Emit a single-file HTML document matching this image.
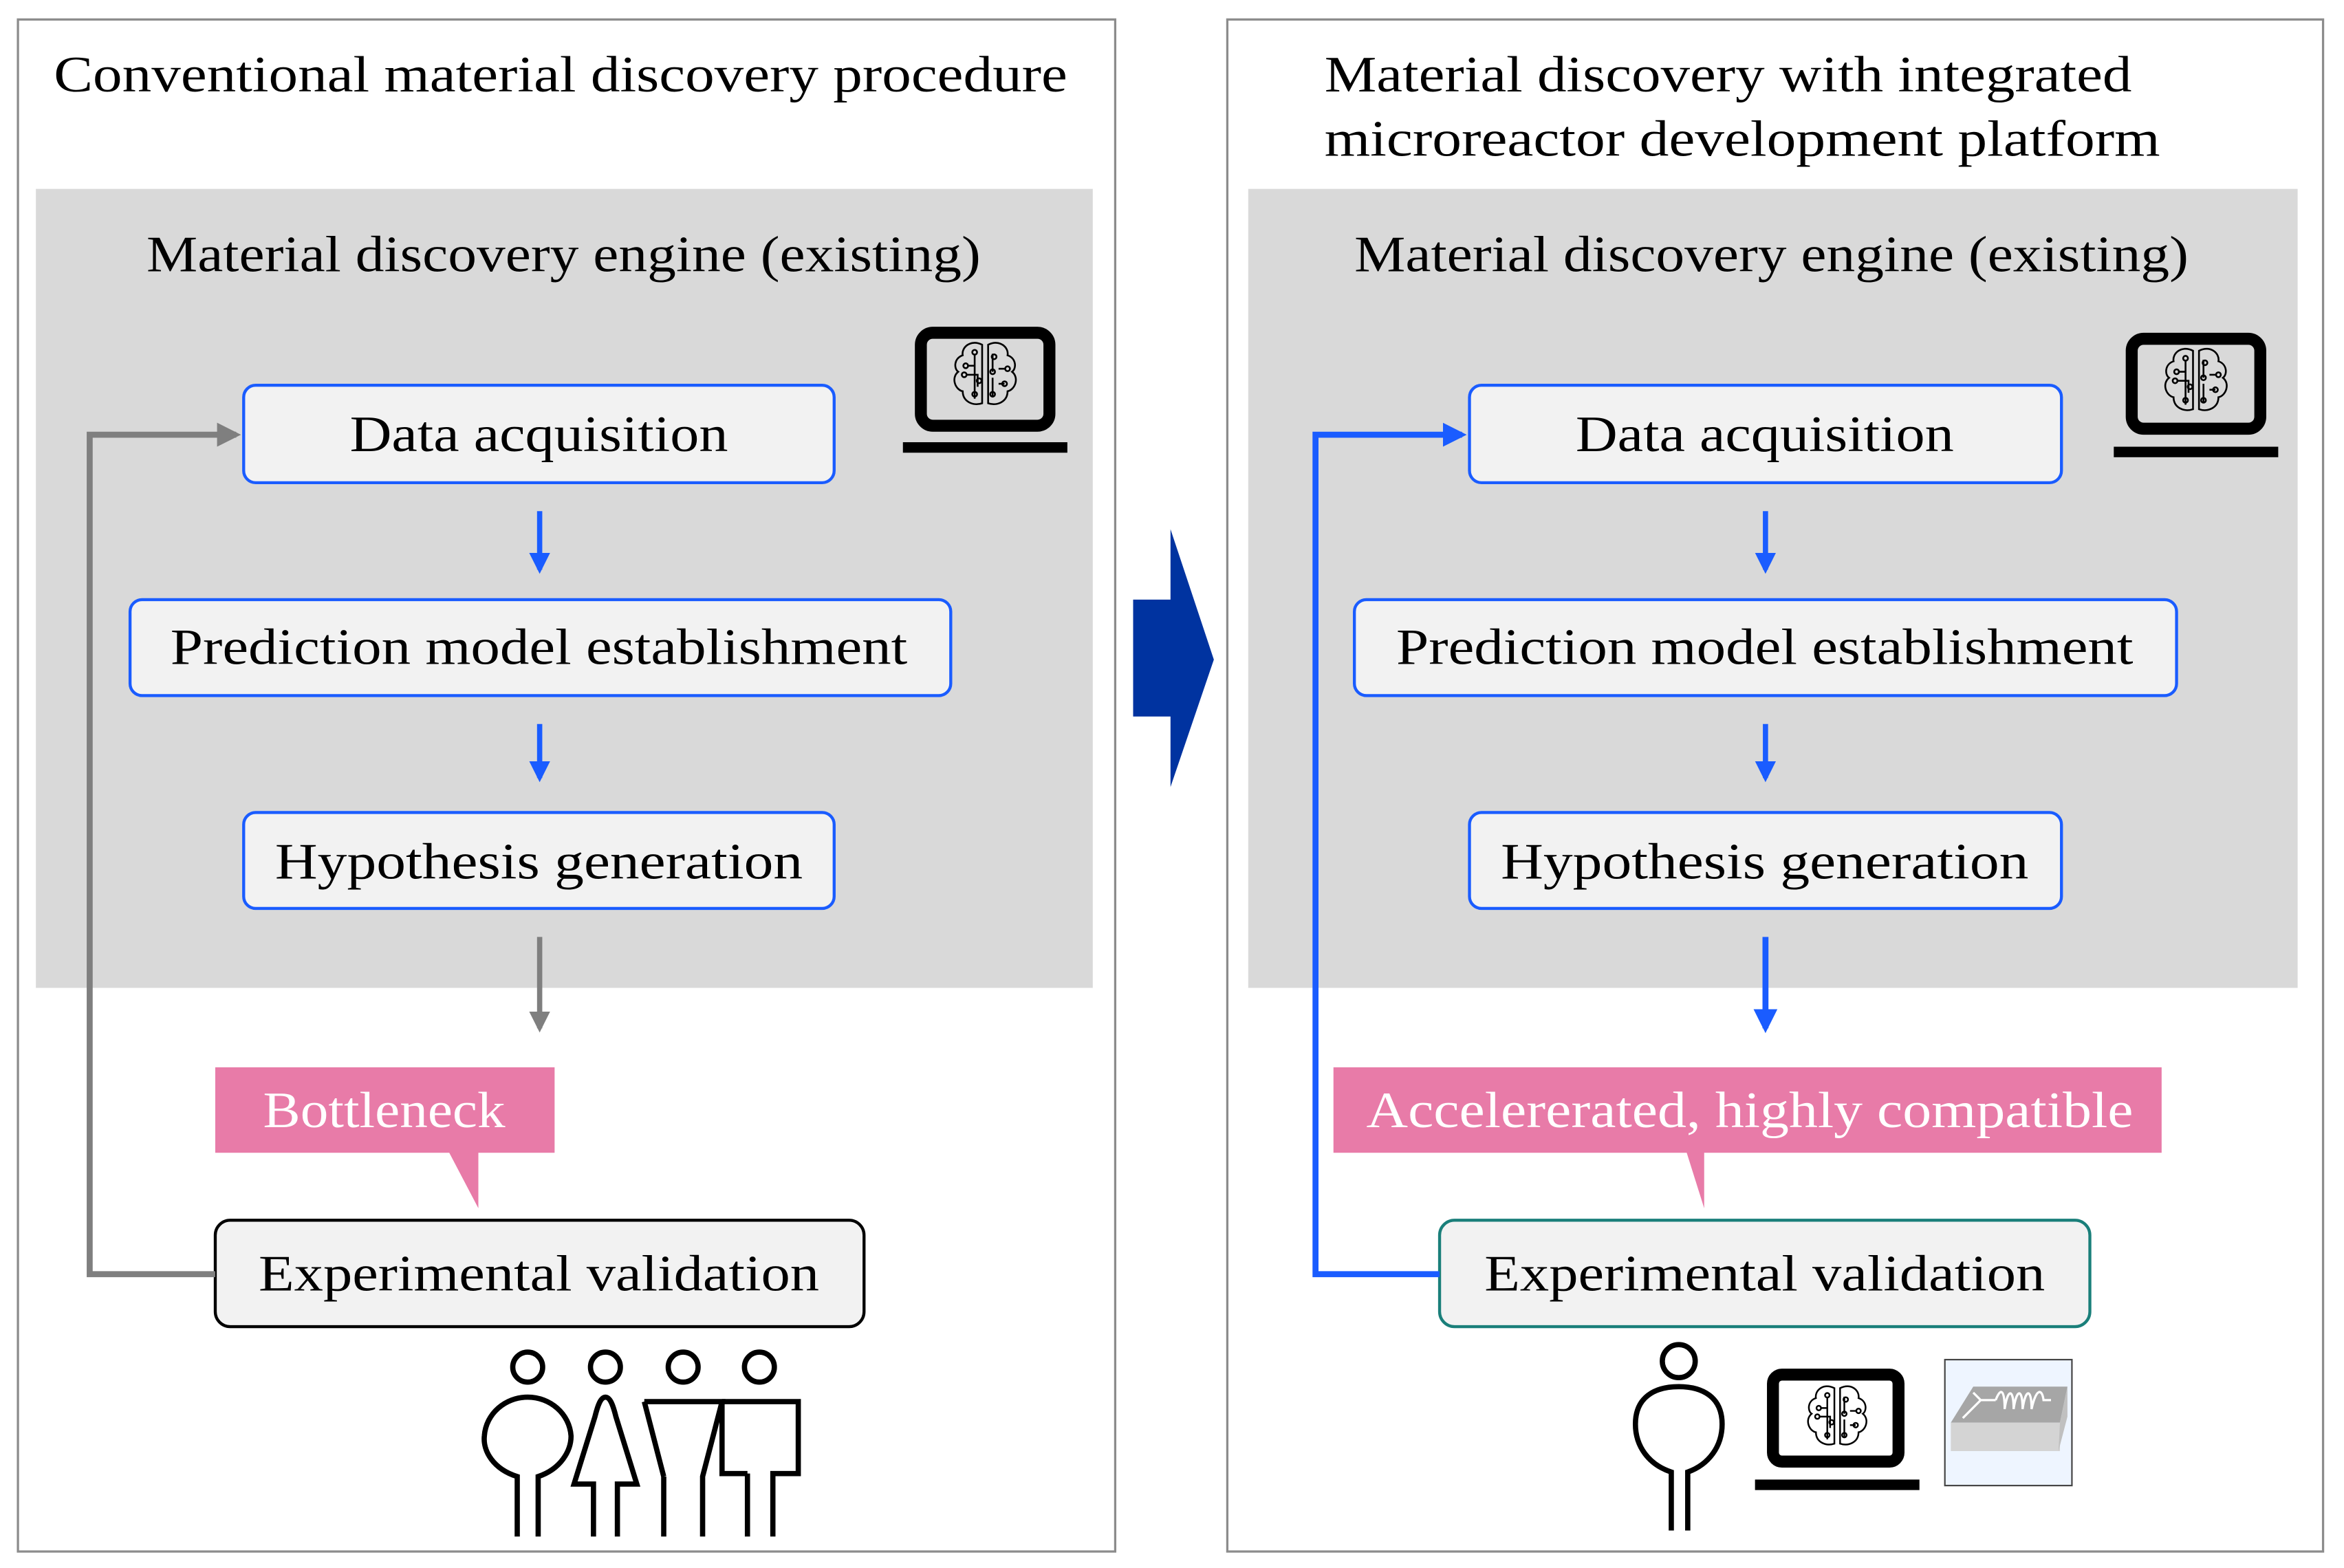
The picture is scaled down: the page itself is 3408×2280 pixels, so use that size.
<!DOCTYPE html>
<html><head><meta charset="utf-8"><style>html,body{margin:0;padding:0;background:#fff}svg{display:block}</style></head><body>
<svg width="3408" height="2280" viewBox="0 0 1568 1046" preserveAspectRatio="none" xmlns="http://www.w3.org/2000/svg" font-family="Liberation Serif, serif" fill="#000">
<defs>
<marker id="ab" viewBox="0 0 10 10" refX="8" refY="5" markerWidth="4" markerHeight="4" orient="auto"><path d="M0,0L10,5L0,10z" fill="#1a5cff"/></marker>
<marker id="ag" viewBox="0 0 10 10" refX="8" refY="5" markerWidth="4" markerHeight="4" orient="auto"><path d="M0,0L10,5L0,10z" fill="#7f7f7f"/></marker>
<g id="brain" fill="none" stroke="#000" stroke-width="1.2">
<path d="M-2,-20 C-10,-24 -16,-18 -15,-13 C-21,-11 -21,-4 -18,-2 C-23,2 -20,10 -15,11 C-15,18 -8,21 -2,19 Z"/>
<path d="M2,-20 C10,-24 16,-18 15,-13 C21,-11 21,-4 18,-2 C23,2 20,10 15,11 C15,18 8,21 2,19 Z"/>
<path d="M-7,-14V16M-7,-6H-12M-12,0H-5V8M5,-14V-2M5,2V14M9,-4H14M9,6H13"/>
<circle cx="-7" cy="-15" r="1.6"/><circle cx="-13" cy="-6" r="1.6"/><circle cx="-14" cy="0" r="1.6"/><circle cx="-4" cy="4" r="1.6"/><circle cx="-7" cy="13" r="1.6"/>
<circle cx="6" cy="-12" r="1.6"/><circle cx="5" cy="-2" r="1.6"/><circle cx="15" cy="-4" r="1.6"/><circle cx="13" cy="6" r="1.6"/><circle cx="5" cy="13" r="1.6"/>
</g>
</defs>

<!-- Left panel -->
<rect x="12" y="13" width="734" height="1022" fill="#fff" stroke="#8c8c8c" stroke-width="1.5"/>
<text x="36" y="61" font-size="34" textLength="678" lengthAdjust="spacingAndGlyphs">Conventional material discovery procedure</text>
<rect x="24" y="126" width="707" height="533" fill="#d9d9d9"/>
<text x="98" y="181" font-size="34" textLength="558" lengthAdjust="spacingAndGlyphs">Material discovery engine (existing)</text>

<rect x="163" y="257" width="395" height="65" rx="8" fill="#f2f2f2" stroke="#1a5cff" stroke-width="2"/>
<text x="234" y="301" font-size="34" textLength="253" lengthAdjust="spacingAndGlyphs">Data acquisition</text>
<rect x="87" y="400" width="549" height="64" rx="8" fill="#f2f2f2" stroke="#1a5cff" stroke-width="2"/>
<text x="114" y="443" font-size="34" textLength="493" lengthAdjust="spacingAndGlyphs">Prediction model establishment</text>
<rect x="163" y="542" width="395" height="64" rx="8" fill="#f2f2f2" stroke="#1a5cff" stroke-width="2"/>
<text x="184" y="586" font-size="34" textLength="353" lengthAdjust="spacingAndGlyphs">Hypothesis generation</text>

<line x1="361" y1="341" x2="361" y2="380" stroke="#1a5cff" stroke-width="3.5" marker-end="url(#ab)"/>
<line x1="361" y1="483" x2="361" y2="519" stroke="#1a5cff" stroke-width="3.5" marker-end="url(#ab)"/>
<line x1="361" y1="625" x2="361" y2="686" stroke="#7f7f7f" stroke-width="3.5" marker-end="url(#ag)"/>

<rect x="144" y="712" width="227" height="57" fill="#e87ba8"/>
<path d="M300,768 L320,768 L320,806 Z" fill="#e87ba8"/>
<text x="176" y="752" font-size="34" fill="#fff" textLength="162" lengthAdjust="spacingAndGlyphs">Bottleneck</text>

<rect x="144" y="814" width="434" height="71" rx="10" fill="#f2f2f2" stroke="#000" stroke-width="2"/>
<text x="173" y="861" font-size="34" textLength="375" lengthAdjust="spacingAndGlyphs">Experimental validation</text>

<polyline points="144,850 60,850 60,290 158,290" fill="none" stroke="#7f7f7f" stroke-width="4" marker-end="url(#ag)"/>

<rect x="616" y="222" width="86" height="62" rx="8" fill="none" stroke="#000" stroke-width="8"/>
<rect x="604" y="295" width="110" height="7" fill="#000"/>
<use href="#brain" transform="translate(659,250)"/>

<!-- people -->
<g fill="none" stroke="#000" stroke-width="3.5">
<circle cx="353" cy="912" r="10"/><circle cx="405" cy="912" r="10"/><circle cx="457" cy="912" r="10"/><circle cx="508" cy="912" r="10"/>
<path d="M346,1025V985C330,980 323,968 324,958C325,943 338,932 353,932C368,932 381,943 382,958C382,968 375,980 360,985V1025"/>
<path d="M397,1025V990H384L398,945C400,937 402,932 405,932C408,932 410,937 412,945L426,990H413V1025"/>
<path d="M431,935H483L470,985V1025M444,985V1025M431,935L444,985"/>
<path d="M483,935H534V983H517V1025M500,983V1025M483,935V983H500"/>
</g>

<!-- big arrow -->
<polygon points="758,400 783,400 783,353 812,440 783,525 783,478 758,478" fill="#0033a0"/>

<!-- Right panel -->
<rect x="821" y="13" width="733" height="1022" fill="#fff" stroke="#8c8c8c" stroke-width="1.5"/>
<text x="886" y="61" font-size="34" textLength="540" lengthAdjust="spacingAndGlyphs">Material discovery with integrated</text>
<text x="886" y="104" font-size="34" textLength="559" lengthAdjust="spacingAndGlyphs">microreactor development platform</text>
<rect x="835" y="126" width="702" height="533" fill="#d9d9d9"/>
<text x="906" y="181" font-size="34" textLength="558" lengthAdjust="spacingAndGlyphs">Material discovery engine (existing)</text>

<rect x="983" y="257" width="396" height="65" rx="8" fill="#f2f2f2" stroke="#1a5cff" stroke-width="2"/>
<text x="1054" y="301" font-size="34" textLength="253" lengthAdjust="spacingAndGlyphs">Data acquisition</text>
<rect x="906" y="400" width="550" height="64" rx="8" fill="#f2f2f2" stroke="#1a5cff" stroke-width="2"/>
<text x="934" y="443" font-size="34" textLength="493" lengthAdjust="spacingAndGlyphs">Prediction model establishment</text>
<rect x="983" y="542" width="396" height="64" rx="8" fill="#f2f2f2" stroke="#1a5cff" stroke-width="2"/>
<text x="1004" y="586" font-size="34" textLength="353" lengthAdjust="spacingAndGlyphs">Hypothesis generation</text>

<line x1="1181" y1="341" x2="1181" y2="380" stroke="#1a5cff" stroke-width="3.5" marker-end="url(#ab)"/>
<line x1="1181" y1="483" x2="1181" y2="519" stroke="#1a5cff" stroke-width="3.5" marker-end="url(#ab)"/>
<line x1="1181" y1="625" x2="1181" y2="686" stroke="#1a5cff" stroke-width="4" marker-end="url(#ab)"/>

<rect x="892" y="712" width="554" height="57" fill="#e87ba8"/>
<path d="M1128,768 L1140,768 L1140,806 Z" fill="#e87ba8"/>
<text x="914" y="752" font-size="34" fill="#fff" textLength="513" lengthAdjust="spacingAndGlyphs">Accelererated, highly compatible</text>

<rect x="963" y="814" width="435" height="71" rx="10" fill="#f2f2f2" stroke="#1a7f7a" stroke-width="2"/>
<text x="993" y="861" font-size="34" textLength="375" lengthAdjust="spacingAndGlyphs">Experimental validation</text>

<polyline points="963,850 880,850 880,290 978,290" fill="none" stroke="#1a5cff" stroke-width="4" marker-end="url(#ab)"/>

<rect x="1426" y="226" width="86" height="60" rx="8" fill="none" stroke="#000" stroke-width="8"/>
<rect x="1414" y="298" width="110" height="7" fill="#000"/>
<use href="#brain" transform="translate(1469,254)"/>

<!-- bottom icons right -->
<g fill="none" stroke="#000" stroke-width="3.5">
<ellipse cx="1123" cy="908" rx="11" ry="11"/>
<path d="M1118,1021V982C1103,977 1094,965 1094,950C1094,932 1107,925 1123,925C1139,925 1152,932 1152,950C1152,965 1143,977 1129,982V1021"/>
</g>
<rect x="1186" y="917" width="84" height="58" rx="6" fill="none" stroke="#000" stroke-width="8"/>
<rect x="1174" y="987" width="110" height="7" fill="#000"/>
<use href="#brain" transform="translate(1229,945) scale(0.95)"/>
<rect x="1301" y="907" width="85" height="84" fill="#eef5ff" stroke="#444" stroke-width="1"/>
<polygon points="1305,949 1320,925 1383,925 1378,949" fill="#a6a6a6"/>
<polygon points="1305,949 1378,949 1378,968 1305,968" fill="#d4d4d4"/>
<polygon points="1378,949 1383,925 1383,945 1377,968" fill="#c0c0c0"/>
<path d="M1313,946 L1325,934 L1335,934 M1325,934 L1320,929 M1335,934 C1338,926 1341,926 1341,940 C1343,926 1347,926 1347,940 C1349,926 1353,926 1353,940 C1355,926 1359,926 1359,940 C1362,926 1366,926 1367,934 L1372,934" fill="none" stroke="#fff" stroke-width="1.5"/>
</svg>
</body></html>
